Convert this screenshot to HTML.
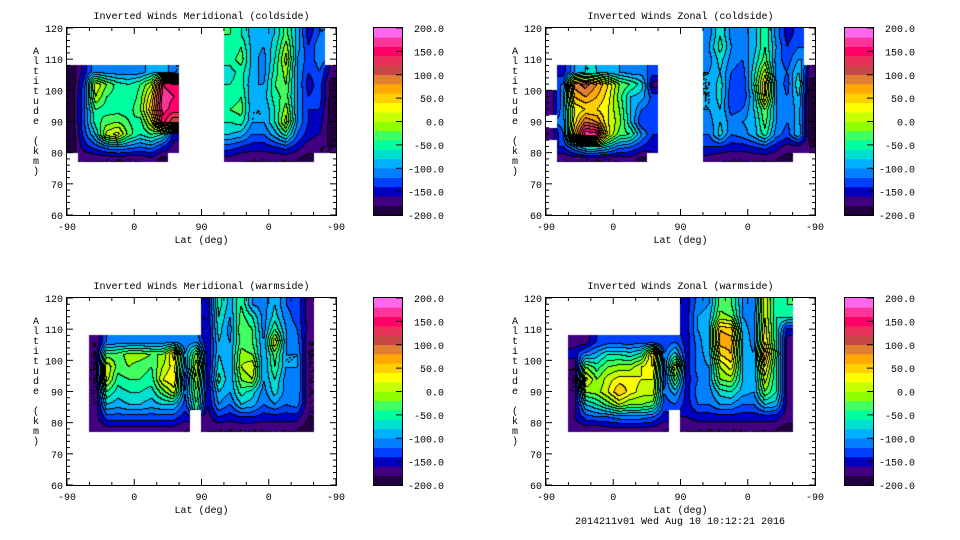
<!DOCTYPE html>
<html><head><meta charset="utf-8">
<style>
html,body{margin:0;padding:0;background:#fff;}
#root{position:relative;width:960px;height:540px;overflow:hidden;background:#fff;}
canvas{position:absolute;}
svg{position:absolute;left:0;top:0;}
text{font-family:"Liberation Mono",monospace;font-size:10px;fill:#000;}
</style></head>
<body>
<div id="root">
<canvas id="c0" width="269" height="187" style="left:67px;top:28px"></canvas>
<canvas id="c1" width="269" height="187" style="left:546px;top:28px"></canvas>
<canvas id="c2" width="269" height="187" style="left:67px;top:298px"></canvas>
<canvas id="c3" width="269" height="187" style="left:546px;top:298px"></canvas>
<svg id="ov" width="960" height="540"></svg>
</div>
<script>
// Altitude centers of the grid rows (km), top to bottom
const altCenters = [118,114,110,106,102,98,94,90,86,82,78];
// 24 latitude columns spanning the -90..90..-90 axis (15 units each)
const colCount = 24;
const levels = [-200,-180,-160,-140,-120,-100,-80,-60,-40,-20,0,20,40,60,80,100,120,140,160,180,200];
const bandColors = ["#200040","#400080","#0000c0","#0040ff","#0080ff","#00b0ff","#00e0d0","#00ffa0","#40ff60","#90ff00","#c8ff00","#ffff00","#ffd000","#ffa800","#e08030","#c84848","#e8305a","#ff0066","#ff3399","#ff66ee"];
const cbLabels = ["200.0","150.0","100.0","50.0","0.0","-50.0","-100.0","-150.0","-200.0"];
const yTickLabels = ["60","70","80","90","100","110","120"];
const xTickLabels = ["-90","0","90","0","-90"];
const titles = ["Inverted Winds Meridional (coldside)","Inverted Winds Zonal (coldside)","Inverted Winds Meridional (warmside)","Inverted Winds Zonal (warmside)"];
const N = null;
const merCold = [
 [N,N,N,-190,-190,-190,-190,-190,-190,-190,N],
 [N,N,N,-150,-130,-120,-120,-120,-130,-150,-180],
 [N,N,N,-100,20,0,-40,-50,-80,-130,-180],
 [N,N,N,-110,-20,-40,-50,-30,10,-110,-180],
 [N,N,N,-110,-50,-50,-50,-20,30,-100,-180],
 [N,N,N,-110,-60,-60,-50,-40,-30,-110,-180],
 [N,N,N,-110,-40,-30,-20,-50,-60,-120,-180],
 [N,N,N,-90,0,40,60,20,-40,-110,-170],
 [N,N,N,-80,160,170,170,150,-60,-140,-190],
 [N,N,N,-120,150,160,150,100,-150,-170,N],
 [N,N,N,N,N,N,N,N,N,N,N],
 [N,N,N,N,N,N,N,N,N,N,N],
 [N,N,N,N,N,N,N,N,N,N,N],
 [N,N,N,N,N,N,N,N,N,N,N],
 [-40,-60,-50,-70,-60,-60,-40,-60,-80,-130,-170],
 [-60,-40,-30,-50,-50,-40,-30,-50,-90,-140,-180],
 [-90,-90,-90,-90,-100,-100,-100,-100,-120,-150,-180],
 [-90,-100,-110,-110,-100,-90,-100,-100,-120,-150,-180],
 [-80,-70,-60,-50,-40,-50,-60,-60,-90,-140,-180],
 [-30,-10,10,-10,-20,-30,-10,10,-50,-130,-180],
 [-90,-90,-100,-100,-100,-100,-100,-100,-120,-150,-180],
 [-150,-140,-130,-140,-150,-140,-140,-140,-150,-170,-190],
 [-120,-100,-110,-120,-130,-130,-140,-150,-160,-180,N],
 [N,N,N,-170,-190,-190,-190,-190,-190,-180,N]
];
const zonCold = [
 [N,N,N,N,N,-170,-170,N,-170,N,N],
 [N,N,N,-150,-120,-100,-100,-110,-120,-140,-180],
 [N,N,N,-100,90,60,20,30,60,-100,-180],
 [N,N,N,-80,110,80,40,100,180,-60,-180],
 [N,N,N,-80,80,60,40,80,170,-60,-180],
 [N,N,N,-90,40,30,20,20,30,-80,-180],
 [N,N,N,-100,-20,-30,-20,-10,-30,-110,-180],
 [N,N,N,-110,-40,-80,-80,-80,-40,-120,-170],
 [N,N,N,-110,-70,-90,-120,-140,-100,-140,-190],
 [N,N,N,-130,-170,-130,-130,-130,-140,-160,N],
 [N,N,N,N,N,N,N,N,N,N,N],
 [N,N,N,N,N,N,N,N,N,N,N],
 [N,N,N,N,N,N,N,N,N,N,N],
 [N,N,N,N,N,N,N,N,N,N,N],
 [-110,-100,-110,-100,-100,-100,-100,-110,-120,-140,-170],
 [-60,-50,-70,-80,-70,-70,-80,-80,-70,-140,-180],
 [-110,-100,-110,-120,-130,-140,-130,-110,-120,-150,-180],
 [-110,-110,-120,-130,-140,-140,-120,-100,-110,-150,-180],
 [-90,-90,-80,-70,-60,-80,-80,-90,-90,-140,-180],
 [-40,-40,-30,10,50,40,-20,-30,-50,-130,-180],
 [-110,-100,-110,-110,-100,-100,-100,-100,-110,-150,-180],
 [-150,-140,-130,-120,-130,-120,-120,-120,-130,-170,-190],
 [-130,-120,-100,-80,-60,-80,-90,-90,-80,-170,N],
 [N,N,N,-170,-190,-190,-190,-190,-190,-180,N]
];
const merWarm = [
 [N,N,N,N,N,N,N,N,N,N,N],
 [N,N,N,N,N,N,N,N,N,N,N],
 [N,N,N,-180,-180,-180,-180,-180,-180,-170,-180],
 [N,N,N,-120,-30,20,10,-40,-80,-130,-170],
 [N,N,N,-110,-30,-30,-50,-70,-90,-130,-170],
 [N,N,N,-110,-10,-20,-40,-60,-80,-130,-170],
 [N,N,N,-110,-10,-30,-40,-60,-80,-130,-170],
 [N,N,N,-110,-20,-40,-50,-70,-90,-130,-170],
 [N,N,N,-110,-20,0,20,-30,-80,-130,-170],
 [N,N,N,-100,50,30,40,10,-80,-130,-170],
 [N,N,N,-120,-100,-110,-140,-120,-130,-150,-180],
 [N,N,N,-100,-10,20,0,-20,-40,N,N],
 [-160,-160,-160,-160,-160,-160,-160,-160,-160,-170,-180],
 [-50,-60,-70,-80,-80,-70,-50,-80,-100,-140,-180],
 [-90,-100,-110,-100,-100,-100,-100,-100,-120,-150,-180],
 [-40,-30,-20,-30,-10,0,-20,-50,-80,-140,-180],
 [-100,-60,-40,-40,-20,20,0,-70,-90,-140,-180],
 [-110,-110,-110,-100,-100,-100,-100,-110,-120,-150,-180],
 [-80,-70,-40,20,-30,-40,-60,-70,-100,-150,-180],
 [-120,-110,-100,-100,-100,-100,-110,-110,-120,-150,-180],
 [-130,-130,-120,-110,-100,-100,-100,-100,-110,-150,-180],
 [-170,-170,-170,-180,-180,-180,-180,-180,-180,-180,-190],
 [N,N,N,N,N,N,N,N,N,N,N],
 [N,N,N,N,N,N,N,N,N,N,N]
];
const zonWarm = [
 [N,N,N,N,N,N,N,N,N,N,N],
 [N,N,N,N,N,N,N,N,N,N,N],
 [N,N,N,-170,-150,-180,-180,-180,-170,-160,-180],
 [N,N,N,-170,-110,-20,30,-20,-80,-130,-170],
 [N,N,N,-140,-90,-50,-20,-10,-60,-120,-180],
 [N,N,N,-130,-60,-20,10,20,-30,-120,-170],
 [N,N,N,-130,-60,-10,30,60,0,-110,-170],
 [N,N,N,-130,-70,-10,30,30,-20,-110,-170],
 [N,N,N,-130,-50,20,20,10,-20,-110,-170],
 [N,N,N,-130,60,40,20,10,-30,-120,-170],
 [N,N,N,-140,-120,-130,-130,-120,-130,-150,-180],
 [N,N,N,-120,-70,20,-30,-90,-120,N,N],
 [-150,-150,-150,-150,-150,-150,-150,-150,-150,-160,-180],
 [-110,-100,-100,-110,-110,-110,-120,-110,-120,-150,-180],
 [-100,-90,-80,-80,-90,-100,-100,-110,-120,-150,-180],
 [-30,-10,60,70,40,0,-20,-70,-100,-150,-180],
 [-40,-20,50,70,60,30,-10,-60,-100,-150,-180],
 [-100,-100,-90,-80,-80,-80,-80,-90,-120,-150,-180],
 [-120,-110,-110,-110,-100,-100,-100,-100,-120,-150,-180],
 [20,20,30,40,80,40,10,-20,-80,-150,-180],
 [-60,-60,-60,-60,-50,-60,-60,-60,-90,-150,-180],
 [-40,-60,-150,-170,-170,-170,-170,-170,-170,-170,-190],
 [N,N,N,N,N,N,N,N,N,N,N],
 [N,N,N,N,N,N,N,N,N,N,N]
];
const fields = [merCold, zonCold, merWarm, zonWarm];

const PW = 269, PH = 187;
function xPos(p){ return p/360*PW; }
function yPos(alt){ return (120-alt)/60*PH; }
function pOf(px){ return px/PW*360; }
function altOf(py){ return 120 - py/PH*60; }

function hexToRgb(h){ return [parseInt(h.substr(1,2),16),parseInt(h.substr(3,2),16),parseInt(h.substr(5,2),16)]; }
const rgb = bandColors.map(hexToRgb);
function bandOf(v){ let b=Math.floor((v-levels[0])/(levels[1]-levels[0])); return Math.max(0,Math.min(bandColors.length-1,b)); }

function sample(F, p, alt){
  const cf = (p-7.5)/15;
  const rf = (118-alt)/4;
  const ci = Math.round(cf), ri = Math.round(rf);
  if (ci<0||ci>=colCount||ri<0||ri>=altCenters.length) return null;
  if (alt < 77) return null;
  if (F[ci][ri]===null) return null;
  const c0=Math.floor(cf), r0=Math.floor(rf);
  let s=0,w=0;
  for (let dc=0;dc<2;dc++) for (let dr=0;dr<2;dr++){
    const c=c0+dc, r=r0+dr;
    if (c<0||c>=colCount||r<0||r>=altCenters.length) continue;
    const v=F[c][r]; if (v===null) continue;
    const wt=(1-Math.abs(cf-c))*(1-Math.abs(rf-r));
    if (wt<=0) continue;
    s+=v*wt; w+=wt;
  }
  return w>0 ? s/w : F[ci][ri];
}

fields.forEach((F,k)=>{
  const cv=document.getElementById('c'+k), ctx=cv.getContext('2d');
  const img=ctx.createImageData(PW,PH);
  const bands=new Int16Array(PW*PH).fill(-1);
  for (let y=0;y<PH;y++) for (let x=0;x<PW;x++){
    const v=sample(F,pOf(x+0.5),altOf(y+0.5));
    if (v!==null) bands[y*PW+x]=bandOf(v);
  }
  for (let y=0;y<PH;y++) for (let x=0;x<PW;x++){
    const b=bands[y*PW+x]; if (b<0) continue;
    const i=(y*PW+x)*4;
    let edge=false;
    if (x>0 && bands[y*PW+x-1]>=0 && bands[y*PW+x-1]!==b) edge=true;
    if (y>0 && bands[(y-1)*PW+x]>=0 && bands[(y-1)*PW+x]!==b) edge=true;
    const c= edge?[0,0,0]:rgb[b];
    img.data[i]=c[0]; img.data[i+1]=c[1]; img.data[i+2]=c[2]; img.data[i+3]=255;
  }
  ctx.putImageData(img,0,0);
});

const svg=document.getElementById('ov'), NS='http://www.w3.org/2000/svg';
function mk(tag, attrs, parent){ const e=document.createElementNS(NS,tag); for(const a in attrs) e.setAttribute(a,attrs[a]); (parent||svg).appendChild(e); return e; }
const offs=[[0,0],[479,0],[0,270],[479,270]];
const cbOffs=[[0,0],[471,0],[0,270],[471,270]];
offs.forEach((o,k)=>{
  const g=mk('g',{transform:'translate('+o[0]+','+o[1]+')'});
  
  
  const L=67,T=28;
  const fr=mk('rect',{x:L-0.5,y:T-0.5,width:PW+1,height:PH+1,fill:'none',stroke:'#000','stroke-width':1},g);
  
  
  for (let a=60;a<=120;a+=2){
    const y=T+yPos(a), len=(a%10===0)?6:3;
    mk('line',{x1:L,y1:y,x2:L+len,y2:y,stroke:'#000'},g);
    mk('line',{x1:L+PW,y1:y,x2:L+PW-len,y2:y,stroke:'#000'},g);
  }
  yTickLabels.forEach((lab,i)=>{
    const t=mk('text',{x:L-4,y:T+yPos(60+i*10)+4,'text-anchor':'end'},g); t.textContent=lab;
    
    
  });
  for (let p=0;p<=360;p+=30){
    const x=L+xPos(p), len=(p%90===0)?6:3;
    mk('line',{x1:x,y1:T+PH,x2:x,y2:T+PH-len,stroke:'#000'},g);
    mk('line',{x1:x,y1:T,x2:x,y2:T+len,stroke:'#000'},g);
  }
  xTickLabels.forEach((lab,i)=>{
    const t=mk('text',{x:L+xPos(i*90),y:T+PH+15,'text-anchor':'middle'},g); t.textContent=lab;
    
    
  });
  const ti=mk('text',{x:L+PW/2,y:19,'text-anchor':'middle'},g); ti.textContent=titles[k];
  
  
  const xl=mk('text',{x:L+PW/2,y:243,'text-anchor':'middle'},g); xl.textContent='Lat (deg)';
  
  
  const yl=mk('g',{},g);
  
  
  'Altitude (km)'.split('').forEach((ch,i)=>{ const t=mk('text',{x:36,y:54+i*10,'text-anchor':'middle'},yl); t.textContent=ch; });
  const co=cbOffs[k];
  const cb=mk('g',{transform:'translate('+(co[0]-o[0])+',0)'},g);
  
  
  const bh=PH/bandColors.length;
  bandColors.forEach((c,i)=>{
    const r=mk('rect',{x:374,y:T+PH-(i+1)*bh,width:28,height:bh+0.3,fill:c},cb);
    
    
  });
  mk('rect',{x:373.5,y:T-0.5,width:29,height:PH+1,fill:'none',stroke:'#000'},cb);
  cbLabels.forEach((lab,i)=>{
    const y=T+i*PH/8;
    mk('line',{x1:396,y1:y,x2:402,y2:y,stroke:'#000'},cb);
    const t=mk('text',{x:444,y:y+4,'text-anchor':'end'},cb); t.textContent=lab;
    
    
  });
});
const ft=mk('text',{x:680,y:524,'text-anchor':'middle'}); ft.textContent='2014211v01 Wed Aug 10 10:12:21 2016';


</script>
</body></html>
